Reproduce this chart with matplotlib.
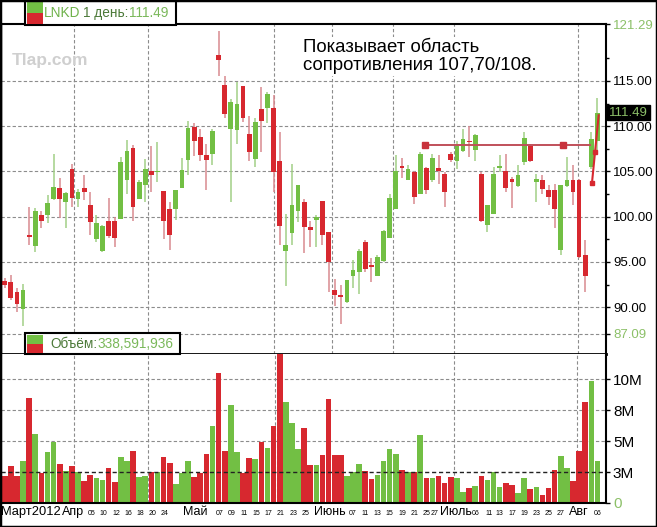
import numpy as np
import matplotlib
matplotlib.use("Agg")
import matplotlib.pyplot as plt
from matplotlib import font_manager
from matplotlib.patches import Rectangle

names = {f.name for f in font_manager.fontManager.ttflist}
NARROW = "Liberation Sans Narrow" if "Liberation Sans Narrow" in names else "Liberation Sans"
plt.rcParams["font.family"] = ["Liberation Sans", "DejaVu Sans"]

# daily OHLC, Mar 16 .. Aug 6 2012
opens = [92.9, 92.8, 91.7, 89.8, 98.0, 96.8, 100.2, 100.2, 101.9, 103.2,
         101.6, 105.3, 102.0, 103.2, 101.3, 97.5, 96.2, 99.5, 99.5, 99.7,
         104.1, 107.6, 102.0, 103.5, 105.0, 104.9, 102.8, 100.9, 100.8, 103.2,
         106.3, 109.9, 108.8, 106.8, 106.9, 117.9, 114.5, 109.7, 109.6, 114.4,
         109.1, 106.4, 111.9, 112.0, 112.0, 106.2, 96.2, 98.2, 100.6, 101.6,
         98.9, 99.6, 101.7, 98.3, 91.9, 91.3, 90.6, 93.5, 93.9, 97.2,
         94.7, 93.5, 95.1, 97.7, 100.9, 105.6, 104.1, 104.9, 102.5, 105.4,
         104.0, 105.4, 104.7, 106.9, 106.2, 107.3, 108.4, 107.4, 104.7, 99.1,
         100.3, 105.4, 105.0, 104.2, 103.4, 106.0, 107.8, 103.8, 104.1, 103.0,
         103.0, 96.3, 103.4, 104.0, 104.1, 95.8, 105.5, 108.4]
highs = [93.2, 93.6, 92.1, 92.6, 101.1, 101.0, 100.6, 102.4, 106.9, 104.3,
         102.7, 105.8, 103.1, 104.6, 102.7, 100.2, 99.1, 102.1, 100.0, 106.6,
         108.5, 107.9, 104.0, 106.4, 107.8, 108.2, 102.8, 101.6, 102.9, 106.5,
         110.6, 110.4, 109.7, 108.0, 109.7, 120.5, 115.6, 113.0, 114.9, 114.4,
         111.1, 110.9, 114.3, 113.8, 113.5, 109.4, 100.3, 105.8, 103.5, 102.0,
         99.5, 100.2, 101.7, 98.3, 93.1, 92.5, 93.0, 95.2, 96.4, 97.4,
         95.4, 95.8, 98.5, 102.5, 106.8, 106.5, 105.7, 105.1, 107.1, 105.5,
         106.9, 106.8, 104.9, 107.1, 108.4, 109.7, 110.0, 109.1, 104.9, 101.3,
         105.5, 106.8, 106.9, 104.4, 105.7, 109.4, 108.0, 104.7, 104.6, 103.5,
         103.6, 103.5, 106.6, 105.7, 104.2, 97.4, 109.4, 113.1]
lows = [92.1, 90.8, 89.5, 87.9, 96.9, 96.1, 98.7, 99.3, 101.8, 99.9,
        98.8, 101.1, 101.1, 101.8, 98.0, 97.2, 96.1, 97.6, 96.7, 99.7,
        102.5, 99.5, 102.0, 101.6, 102.7, 103.8, 97.5, 96.3, 99.6, 103.2,
        104.6, 106.7, 106.1, 103.0, 105.7, 115.5, 110.9, 101.6, 108.0, 110.5,
        106.2, 105.5, 107.1, 110.4, 102.7, 96.9, 92.3, 96.9, 99.4, 96.0,
        96.7, 96.6, 96.9, 91.7, 90.1, 88.1, 90.5, 92.1, 91.5, 93.9,
        92.8, 93.4, 95.0, 97.6, 100.9, 104.3, 104.1, 101.4, 102.5, 102.5,
        103.8, 103.6, 101.1, 106.0, 105.3, 107.1, 106.6, 106.2, 99.4, 98.3,
        100.3, 104.9, 102.7, 101.0, 103.3, 105.7, 106.0, 101.6, 102.5, 101.3,
        98.7, 95.8, 103.3, 101.3, 95.4, 91.7, 105.3, 107.1]
closes = [92.4, 91.0, 90.4, 91.9, 97.75, 100.6, 99.5, 101.5, 103.3, 102.0,
          102.6, 102.1, 102.7, 102.7, 99.4, 99.25, 99.0, 97.9, 97.7, 106.0,
          107.3, 101.1, 103.8, 105.3, 104.6, 105.1, 99.5, 98.0, 102.9, 105.2,
          109.8, 108.4, 106.8, 106.3, 109.5, 117.3, 111.4, 112.7, 112.5, 110.9,
          107.2, 110.5, 110.6, 113.6, 104.9, 99.0, 96.9, 101.3, 103.5, 98.9,
          98.5, 100.0, 98.0, 95.0, 91.4, 91.1, 93.0, 94.1, 96.2, 94.2,
          94.45, 95.6, 98.4, 102.1, 105.1, 105.4, 105.3, 102.2, 106.9, 103.0,
          106.5, 105.1, 102.7, 106.3, 107.8, 108.6, 108.2, 109.0, 99.5, 101.3,
          104.7, 105.6, 103.2, 103.8, 104.6, 108.7, 106.2, 104.2, 103.1, 102.2,
          100.8, 103.5, 104.1, 102.7, 95.6, 93.5, 108.6, 111.49]
volumes_m = [2.15, 2.96, 2.15, 3.36, 8.47, 5.59, 2.42, 4.11, 4.97, 3.15,
             2.55, 2.96, 2.47, 1.75, 2.28, 2.02, 1.88, 2.82, 1.67, 3.76,
             3.36, 4.17, 2.07, 2.15, 2.47, 2.47, 3.71, 3.23, 1.53, 2.42,
             3.36, 2.07, 2.42, 3.98, 6.24, 10.48, 4.22, 7.93, 4.11, 2.42,
             3.63, 3.55, 4.92, 4.41, 6.26, 12.6, 8.2, 6.45, 4.35, 6.05,
             3.04, 3.09, 3.9, 8.41, 3.9, 3.9, 2.2, 2.47, 3.15, 2.55,
             1.94, 2.28, 3.41, 4.38, 3.95, 2.69, 2.47, 2.5, 5.51, 2.02,
             2.02, 2.2, 1.61, 2.07, 2.02, 0.86, 1.21, 1.4, 2.15, 1.88,
             2.5, 1.26, 1.61, 1.48, 0.81, 2.02, 1.13, 1.26, 0.67, 1.21,
             2.63, 3.82, 2.82, 1.75, 4.17, 8.2, 9.87, 3.36]

# label positions are bar indices (where the chart puts the text)
month_pos = [11.2, 31.2, 53.2, 73.9, 94.0]
month_labels = ["Апр", "Май", "Июнь", "Июль", "Авг"]
day_pos = [14.2, 16.2, 18.2, 20.2, 22.2, 24.2, 26.2,
           35.2, 37.2, 39.2, 41.2, 43.2, 45.2, 47.2, 49.2,
           57.0, 59.0, 61.0, 63.0, 65.0, 67.0, 69.0, 70.3,
           77.0, 79.2, 81.0, 83.0, 85.0, 87.0, 89.0, 91.0, 97.0]
day_labels = ["05", "10", "12", "16", "18", "20", "24", "07", "09", "11", "15", "17", "21", "23", "25",
              "07", "11", "13", "15", "19", "21", "25", "27", "06", "11", "13", "17", "19", "23", "25", "27", "06"]

price_ticks = [87.09, 90, 95, 100, 105, 110, 115, 121.29]
price_grid = [87.09, 90, 95, 100, 105, 110, 115]
price_vgrid = [11.33, 23.44, 44.07, 53.56, 63.55, 73.53, 93.82]
vol_ticks = [0, 2.5e6, 5e6, 7.5e6, 10e6]
vol_tick_labels = ["0", "3M", "5M", "8M", "10M"]
vol_vgrid = [11.33, 23.44, 44.2, 73.53, 93.7]

resist_level = 107.95
resist_span = [68.8, 95.8]
resist_marks = [68.8, 91.3]
last_line_x = [96.1, 96.6, 97.2]
last_line_y = [103.7, 107.1, 111.2]

GREEN = "#72bf44"
RED = "#d7282f"
WICK_G = "#a2d086"
WICK_R = "#d98a90"
LBL_GREEN = "#8cc068"
GRID = "#8c8c8c"
DASH = (0, (3, 2))

W, H = 657, 527
fig = plt.figure(figsize=(W / 100, H / 100), dpi=100)


def box(l, t, r, b):
    return [l / W, 1 - b / H, (r - l) / W, (b - t) / H]


def frect(l, t, r, b, **kw):
    fig.add_artist(Rectangle((l / W, 1 - b / H), (r - l) / W, (b - t) / H,
                             transform=fig.transFigure, **kw))


ax1 = fig.add_axes(box(1, 24, 606, 354))
ax2 = fig.add_axes(box(1, 354, 606, 503))

o = np.array(opens)
c = np.array(closes)
x = np.arange(len(o))
up = c >= o

# price pane
for p in price_grid:
    ax1.axhline(p, color=GRID, lw=0.8, ls=DASH, zorder=1)
for v in price_vgrid:
    ax1.axvline(v, color=GRID, lw=0.8, ls=DASH, zorder=1)
ax1.vlines(x, lows, highs, colors=np.where(up, WICK_G, WICK_R), lw=1.1, zorder=2)
ax1.bar(x, np.maximum(np.abs(c - o), 0.2), bottom=np.minimum(o, c), width=0.78,
        color=np.where(up, GREEN, RED), lw=0, zorder=3)
ax1.plot(resist_span, [resist_level] * 2, color="#c0505a", lw=1.4, zorder=4)
ax1.plot(resist_marks, [resist_level] * 2, ls="none", marker="s", ms=4, color="#c8323c", zorder=5)
ax1.plot(last_line_x, last_line_y, color="#d7282f", lw=1.5, marker="s", ms=3,
         markevery=[0, 1], zorder=5)

ax1.set_xlim(-0.61, 98.4)
ax1.set_ylim(84.83, 121.29)
ax1.set_xticks([])
ax1.yaxis.tick_right()
ax1.set_yticks(price_ticks)
ax1.set_yticklabels([f"{p:.2f}" for p in price_ticks])
ax1.set_yticks(np.arange(92.5, 120, 5), minor=True)
ax1.tick_params(axis="y", which="major", direction="out", length=3, width=1, pad=2, labelsize=9.5)
ax1.tick_params(axis="y", which="minor", direction="out", length=2, width=1)
for lbl, p in zip(ax1.get_yticklabels(), price_ticks):
    lbl.set_color(LBL_GREEN if p in (87.09, 121.29) else "black")
for s in ax1.spines.values():
    s.set_color("black")
ax1.spines["top"].set_linewidth(1.5)
ax1.spines["right"].set_linewidth(1.5)
ax1.spines["bottom"].set_linewidth(2)
ax1.spines["left"].set_linewidth(1)

# volume pane
vol = np.array(volumes_m) * 1e6
for p in vol_ticks[2:]:
    ax2.axhline(p, color=GRID, lw=0.8, ls=DASH, zorder=1)
for v in vol_vgrid:
    ax2.axvline(v, color=GRID, lw=0.8, ls=DASH, zorder=1)
ax2.bar(x, vol, width=0.92, color=np.where(up, GREEN, RED), lw=0, zorder=2)
ax2.axhline(vol_ticks[1], color="#222222", lw=1, ls=DASH, zorder=3)
ax2.set_xlim(-0.61, 98.4)
ax2.set_ylim(0, 12.05e6)
ax2.set_xticks([])
ax2.yaxis.tick_right()
ax2.set_yticks(vol_ticks)
ax2.set_yticklabels(vol_tick_labels)
ax2.tick_params(axis="y", direction="out", length=3, width=1, pad=2, labelsize=11)
ax2.get_yticklabels()[0].set_color(LBL_GREEN)
for s in ax2.spines.values():
    s.set_color("black")
ax2.spines["top"].set_visible(False)
ax2.spines["right"].set_linewidth(1.5)
ax2.spines["bottom"].set_linewidth(1.5)

# x labels under the volume pane
tr = ax2.get_xaxis_transform()
lab_y = (503 - 512) / 149
ax2.text(-0.55, lab_y, "Март2012", transform=tr, ha="left", va="center",
         fontsize=9.3, family=NARROW, clip_on=False)
for p, t in zip(month_pos, month_labels):
    ax2.text(p, lab_y, t, transform=tr, ha="center", va="center",
             fontsize=9.0, family=NARROW, clip_on=False)
for p, t in zip(day_pos, day_labels):
    ax2.text(p, lab_y - 0.01, t, transform=tr, ha="center", va="center",
             fontsize=5.0, family=NARROW, clip_on=False)

# annotation and watermark
fig.text(303 / W, 1 - 39 / H, "Показывает область\nсопротивления 107,70/108.",
         ha="left", va="top", fontsize=13.4, linespacing=1.05, color="black",
         bbox=dict(facecolor="white", edgecolor="none", pad=1.5), zorder=6)
fig.text(12 / W, 1 - 60 / H, "Tlap.com", ha="left", va="center", fontsize=12.5,
         fontweight="bold", color="#cfcfcf")

# last price flag
fig.text(609 / W, 1 - 112.5 / H, "111.49", ha="left", va="center", fontsize=9.5,
         color=LBL_GREEN, bbox=dict(facecolor="black", edgecolor="black", pad=1.2))

# legend headers
hdr = 12 if NARROW != "Liberation Sans" else 9.8
frect(25, 0, 176, 25, facecolor="white", edgecolor="black", lw=1.5, zorder=5)
frect(27, 2, 43, 13, facecolor=GREEN, edgecolor="none", zorder=6)
frect(27, 13, 43, 24, facecolor=RED, edgecolor="none", zorder=6)
fig.text(44 / W, 1 - 13 / H, "LNKD", color="#6fb24b", fontsize=hdr, family=NARROW, va="center", zorder=7)
fig.text(83 / W, 1 - 13 / H, "1 день:", color="#4d7a3a", fontsize=hdr, family=NARROW, va="center", zorder=7)
fig.text(129 / W, 1 - 13 / H, "111.49", color="#7ab85a", fontsize=hdr, family=NARROW, va="center", zorder=7)

frect(25, 333, 180, 354, facecolor="white", edgecolor="black", lw=1.5, zorder=5)
frect(27, 335, 43, 344, facecolor=GREEN, edgecolor="none", zorder=6)
frect(27, 344, 43, 353, facecolor=RED, edgecolor="none", zorder=6)
fig.text(50 / W, 1 - 344 / H, "Объём:", color="#4d7a3a", fontsize=hdr, family=NARROW, va="center", zorder=7)
fig.text(98 / W, 1 - 344 / H, "338,591,936", color="#7ab85a", fontsize=hdr, family=NARROW, va="center", zorder=7)

# outer frame
frect(0, 0, W, H, fill=False, edgecolor="black", lw=2.5, zorder=8)

fig.savefig("out.png", dpi=100)
